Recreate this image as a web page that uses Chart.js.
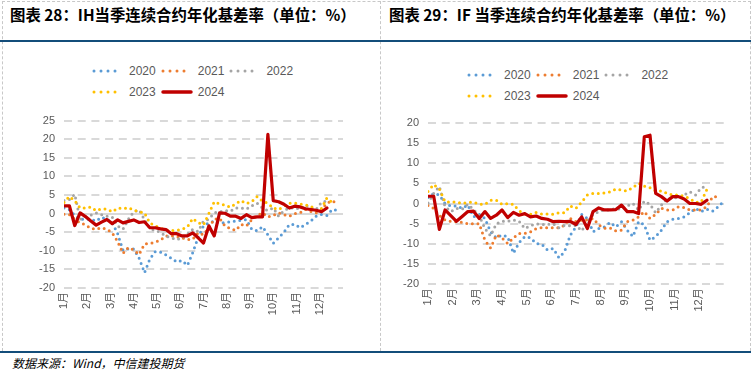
<!DOCTYPE html>
<html><head><meta charset="utf-8">
<script src="https://cdn.jsdelivr.net/npm/chart.js@4.4.1/dist/chart.umd.min.js"></script>
<style>
html,body{margin:0;padding:0;background:#fff}
body{width:753px;height:378px;position:relative;overflow:hidden;font-family:"Liberation Sans",Arial,sans-serif}
.title{position:absolute;top:3px;font-family:"Noto Sans CJK SC";font-weight:bold;font-size:15.4px;color:#000;white-space:nowrap;line-height:22px}
.hline{position:absolute;height:2.5px;background:#134D7A}
.vd{position:absolute;width:0;border-left:1px dashed #c8c8c8}
.hd{position:absolute;height:0;border-top:1px dashed #c8c8c8}
.src{position:absolute;left:12px;top:354px;font-family:"Noto Sans CJK SC";font-style:italic;font-size:12px;color:#000;white-space:nowrap;line-height:18px}
canvas{position:absolute}
.lg{position:absolute;display:flex;align-items:center;font-size:12px;color:#595959;height:14px;line-height:14px}
.lg .it{display:flex;align-items:center;margin-right:5px}
.lg svg{display:block;margin-right:5px}
</style></head>
<body>
<div class="hd" style="left:2px;top:1px;width:749px"></div>
<div class="vd" style="left:2px;top:1px;height:350px"></div>
<div class="vd" style="left:380px;top:1px;height:350px"></div>
<div class="vd" style="left:750px;top:1px;height:350px"></div>
<div class="title" style="left:10px">图表 28：IH当季连续合约年化基差率（单位：%）</div>
<div class="title" style="left:389px">图表 29：IF 当季连续合约年化基差率（单位：%）</div>
<div class="hline" style="left:0;top:39.5px;width:751px"></div>
<div class="hline" style="left:0;top:350.5px;width:751px"></div>
<div class="src">数据来源：Wind，中信建投期货</div>
<canvas id="c1" width="372" height="240" style="left:0;top:105px;width:372px;height:240px"></canvas>
<canvas id="c2" width="377" height="240" style="left:376px;top:105px;width:377px;height:240px"></canvas>
<div id="lg1a" class="lg" style="left:92px;top:64px"></div>
<div id="lg1b" class="lg" style="left:92px;top:85px"></div>
<div id="lg2a" class="lg" style="left:467px;top:68px"></div>
<div id="lg2b" class="lg" style="left:467px;top:89px"></div>
<script>
// ---- data ----
const months = ['1月','2月','3月','4月','5月','6月','7月','8月','9月','10月','11月','12月'];
const years = ['2020','2021','2022','2023','2024'];
const yTicksIH = [-20,-15,-10,-5,0,5,10,15,20,25];
const yTicksIF = [-20,-15,-10,-5,0,5,10,15,20];

// IH weekly annualized basis rate (%)
const ih2020 = [1.5,1.0,-0.5,-1.5,-1.5,-1.6,-2.0,-1.0,-1.5,-2.5,-5.4,-9.9,-9.5,-9.5,-12.0,-15.9,-12.2,-10.2,-10.4,-11.1,-12.0,-13.0,-12.6,-13.9,-10.5,-6.4,-3.3,-2.5,-2.0,-2.5,-2.4,-2.2,-2.0,-1.8,-1.6,-4.2,-4.6,-3.5,-5.7,-8.0,-6.5,-5.0,-2.9,-2.9,-3.8,-2.9,-2.0,-0.7,-0.2,-0.5,1.1,0.9];
const ih2021 = [-0.2,-0.3,-1.5,-2.5,-3.0,-4.0,-4.2,-3.8,-4.2,-5.2,-7.5,-10.7,-9.1,-9.8,-11.0,-8.2,-8.0,-7.7,-7.1,-6.0,-6.0,-6.2,-6.5,-7.0,-6.9,-5.1,-5.7,-3.8,-1.5,-1.3,-3.3,-4.0,-4.5,-2.9,-3.3,-1.6,-0.5,0.2,-0.9,-0.5,0.2,-0.3,-0.7,0.0,0.2,1.1,0.6,0.2,1.1,2.8,3.5,2.6];
const ih2022 = [3.5,3.8,5.2,-1.5,-1.0,-0.4,0.2,-0.3,-0.7,-1.0,-3.3,-4.2,-1.5,0.5,1.0,-1.6,-4.0,-4.6,-5.0,-6.1,-6.5,-7.0,-6.5,-5.5,-4.2,-4.8,-2.0,-1.5,0.2,0.5,0.8,0.6,1.5,1.5,1.2,2.1,2.8,1.5,0.8,1.5,-0.7,0.8,1.5,1.5,1.2,2.3,1.5,1.1,3.1,3.3];
const ih2023 = [3.0,4.6,3.5,1.5,1.5,1.8,0.8,1.3,1.2,0.5,1.5,1.3,1.6,0.9,0.5,0.2,-2.5,-3.3,-4.0,-4.4,-4.6,-4.5,-4.2,-3.6,-1.3,-2.4,-3.0,0.0,3.2,2.6,2.3,1.7,2.6,3.5,2.7,3.2,4.6,3.3,2.8,1.5,1.1,2.0,2.8,2.8,2.6,2.3,2.0,0.8,1.4,4.2,3.0];
const ih2024 = [2.1,2.1,-3.2,0.2,-0.8,-2.0,-3.1,-2.3,-1.6,-2.7,-1.7,-2.5,-2.1,-1.7,-2.4,-2.2,-3.8,-3.8,-4.1,-4.3,-5.4,-5.4,-6.0,-6.0,-5.2,-6.5,-7.9,-3.3,-6.0,0.2,0.1,-0.7,-0.7,-1.3,-0.3,-1.1,-0.9,-0.9,21.3,3.5,3.2,2.5,1.5,2.0,1.8,1.3,1.1,0.9,0.5,1.5];

// IF weekly annualized basis rate (%)
const if2020 = [1.5,2.5,2.1,0.0,-0.6,-0.6,-1.2,-0.4,-3.3,-2.7,-3.7,-7.0,-8.5,-7.8,-8.2,-12.3,-9.7,-8.2,-8.5,-9.9,-10.1,-11.5,-11.1,-13.4,-11.9,-7.8,-5.8,-2.7,-3.7,-7.0,-6.2,-5.8,-4.7,-5.8,-4.5,-6.6,-8.2,-4.5,-5.3,-9.1,-8.2,-6.6,-4.5,-3.9,-3.7,-3.3,-2.3,-1.2,-2.0,-1.4,-1.9,-0.8,0.6];
const if2021 = [-0.5,-1.2,-3.0,-4.1,-4.4,-4.5,-4.7,-5.0,-5.0,-5.0,-9.1,-11.0,-7.8,-8.5,-9.9,-8.5,-7.4,-7.4,-7.0,-6.2,-6.0,-6.0,-6.0,-6.0,-5.4,-3.7,-4.5,-4.1,-4.1,-3.7,-5.3,-6.1,-6.1,-6.8,-6.6,-4.5,-4.1,-3.3,-2.0,-3.7,-2.7,-1.2,-1.6,-1.6,-0.8,-1.0,-1.6,-1.6,-1.6,-0.8,1.7,1.7];
const if2022 = [0.1,2.5,4.2,-0.8,-2.0,-1.2,-1.4,-0.2,-1.5,-3.0,-6.2,-8.0,-5.0,-4.4,-4.4,-4.1,-4.4,-6.2,-5.5,-5.0,-5.2,-5.2,-5.0,-6.0,-5.4,-5.5,-5.4,-6.8,-4.5,-2.7,-2.0,-1.6,-1.6,-1.2,-1.5,-0.6,0.0,-1.6,0.6,-0.2,-2.3,-0.4,1.2,1.4,1.4,2.1,2.9,2.1,3.9,4.3];
const if2023 = [3.0,4.7,3.6,0.4,0.3,0.4,0.0,0.3,0.3,-0.2,-0.2,0.8,0.8,-0.2,0.0,-0.2,-1.8,-2.6,-2.7,-2.2,-2.6,-2.6,-2.7,-2.3,-2.3,-0.6,-1.2,0.4,2.1,2.5,2.5,2.6,2.9,3.6,3.3,3.1,4.0,5.0,4.3,3.9,3.1,3.1,2.5,2.1,2.1,1.8,1.2,0.3,0.4,3.5];
const if2024 = [1.8,1.8,-6.4,-1.6,-3.0,-4.4,-3.2,-2.0,-1.9,-3.7,-2.0,-3.7,-2.9,-1.6,-3.5,-2.2,-2.9,-2.5,-3.3,-3.1,-3.7,-3.9,-4.5,-4.4,-4.5,-4.4,-5.2,-3.3,-6.2,-2.0,-1.1,-1.6,-1.6,-1.5,-0.4,-2.0,-2.0,-2.5,16.5,16.9,2.5,1.7,0.6,1.7,1.7,1.1,0.0,0.0,-0.2,0.8];

const colors = ['#5B9BD5','#ED7D31','#A5A5A5','#FFC000','#C00000'];
const WEEKS = 52;

function ds(label, arr, color, solid, order) {
  return {
    label, order,
    data: arr.map((v, i) => ({x: i, y: v})),
    borderColor: color, backgroundColor: color,
    borderWidth: solid ? 3.2 : 3,
    borderDash: solid ? [] : [0, 5.6],
    borderCapStyle: 'round', borderJoinStyle: 'round',
    pointRadius: 0, tension: 0, fill: false
  };
}

function makeChart(id, series, yTicks, axisW, axisH, padTop, padRight) {
  const datasets = series.map((s, k) => ds(years[k], s, colors[k], k === 4, k === 4 ? 0 : 5 - k));
  return new Chart(document.getElementById(id), {
    type: 'line',
    data: {datasets},
    options: {
      responsive: false, animation: false, devicePixelRatio: 1,
      layout: {padding: {top: padTop, right: padRight, bottom: 0, left: 0}},
      plugins: {legend: {display: false}, tooltip: {enabled: false}},
      scales: {
        x: {
          type: 'linear', min: 0, max: WEEKS,
          afterBuildTicks: (sc) => { sc.ticks = months.map((m, i) => ({value: i * WEEKS / 12})); },
          afterFit: (sc) => { sc.height = axisH; },
          ticks: {autoSkip: false, minRotation: 90, maxRotation: 90, padding: 4,
                  color: '#595959', font: {family: '"Liberation Sans", "Noto Sans CJK SC"', size: 11},
                  callback: (v, i) => months[i]},
          grid: {display: false, drawTicks: false},
          border: {display: false}
        },
        y: {
          min: yTicks[0], max: yTicks[yTicks.length - 1],
          afterBuildTicks: (sc) => { sc.ticks = yTicks.map(v => ({value: v})); },
          afterFit: (sc) => { sc.width = axisW; },
          ticks: {padding: 9, color: '#595959', font: {family: '"Liberation Sans"', size: 11},
                  callback: (v) => String(v)},
          grid: {color: '#D9D9D9', lineWidth: 2, drawTicks: false},
          border: {display: false, dash: (ctx) => (ctx.tick && ctx.tick.value === 0) ? [] : [8, 5.7]}
        }
      }
    }
  });
}

makeChart('c1', [ih2020, ih2021, ih2022, ih2023, ih2024], yTicksIH, 64, 57, 13, 29);
makeChart('c2', [if2020, if2021, if2022, if2023, if2024], yTicksIF, 52, 60.7, 17.7, 29);

function legendItem(k) {
  const solid = k === 4;
  const line = solid
    ? `<line x1="2" y1="4" x2="30" y2="4" stroke="${colors[k]}" stroke-width="3.5" stroke-linecap="round"/>`
    : `<line x1="2" y1="4" x2="30" y2="4" stroke="${colors[k]}" stroke-width="3" stroke-linecap="round" stroke-dasharray="0 7"/>`;
  return `<div class="it"><svg width="32" height="8">${line}</svg><span>${years[k]}</span></div>`;
}
for (const p of ['lg1', 'lg2']) {
  document.getElementById(p + 'a').innerHTML = [0, 1, 2].map(legendItem).join('');
  document.getElementById(p + 'b').innerHTML = [3, 4].map(legendItem).join('');
}
</script>
</body></html>
